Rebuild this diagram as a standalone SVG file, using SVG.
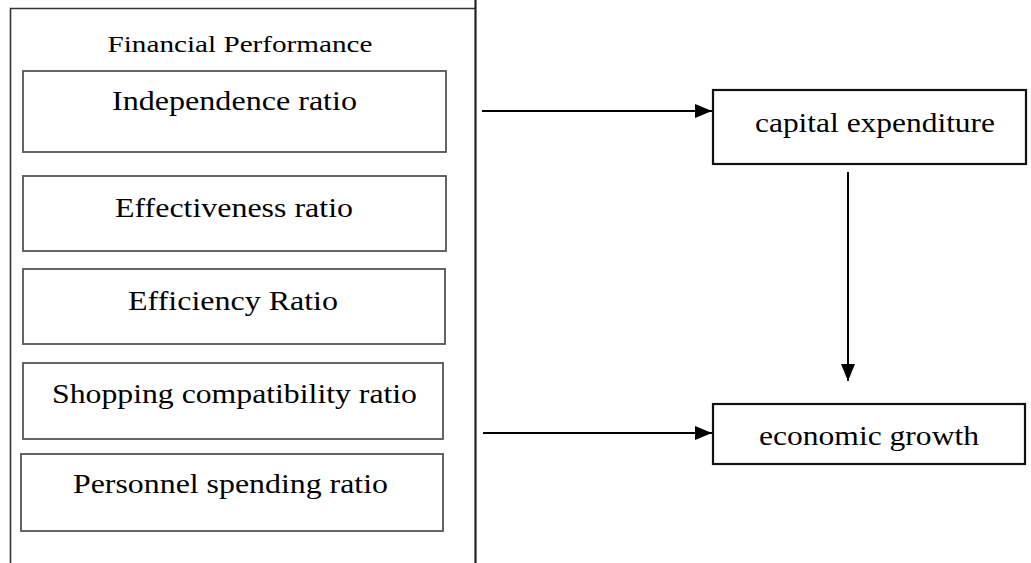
<svg xmlns="http://www.w3.org/2000/svg" width="1031" height="563" viewBox="0 0 1031 563">
<style>
text{font-family:"Liberation Serif","Times New Roman",serif;fill:#000;text-anchor:middle}
.t{font-size:27px}
.h{font-size:24px}
.inner{fill:#fff;stroke:#555;stroke-width:1.8}
.rb{fill:#fff;stroke:#111;stroke-width:2.2}
.ln{stroke:#000;stroke-width:2;fill:none}
</style>
<defs>
<marker id="ah" markerWidth="17" markerHeight="14" refX="17" refY="7" orient="auto" markerUnits="userSpaceOnUse">
<path d="M0,0 L17,7 L0,14 Z" fill="#000"/>
</marker>
</defs>
<rect width="1031" height="563" fill="#fff"/>
<g id="financial-performance">
<path d="M10.5,563 V8.5 H475" fill="none" stroke="#333" stroke-width="1.6"/>
<line x1="475.5" y1="0" x2="475.5" y2="563" stroke="#222" stroke-width="2.2"/>
<text class="h" x="240" y="52" textLength="265" lengthAdjust="spacingAndGlyphs">Financial Performance</text>
</g>
<g id="independence-ratio">
<rect class="inner" x="23" y="71" width="423" height="81"/>
<text class="t" x="234.5" y="110" textLength="245" lengthAdjust="spacingAndGlyphs">Independence ratio</text>
</g>
<g id="effectiveness-ratio">
<rect class="inner" x="23" y="176" width="423" height="75"/>
<text class="t" x="234" y="217" textLength="238" lengthAdjust="spacingAndGlyphs">Effectiveness ratio</text>
</g>
<g id="efficiency-ratio">
<rect class="inner" x="23" y="269" width="422" height="75"/>
<text class="t" x="233" y="310" textLength="210" lengthAdjust="spacingAndGlyphs">Efficiency Ratio</text>
</g>
<g id="shopping-compatibility-ratio">
<rect class="inner" x="23" y="363" width="420" height="76"/>
<text class="t" x="234.5" y="403" textLength="365" lengthAdjust="spacingAndGlyphs">Shopping compatibility ratio</text>
</g>
<g id="personnel-spending-ratio">
<rect class="inner" x="21" y="454" width="422" height="77"/>
<text class="t" x="230.5" y="493" textLength="315" lengthAdjust="spacingAndGlyphs">Personnel spending ratio</text>
</g>
<g id="capital-expenditure">
<rect class="rb" x="713" y="90" width="313" height="74"/>
<text class="t" x="875" y="132" textLength="240" lengthAdjust="spacingAndGlyphs">capital expenditure</text>
</g>
<g id="economic-growth">
<rect class="rb" x="713" y="404" width="312" height="60"/>
<text class="t" x="869" y="445" textLength="220" lengthAdjust="spacingAndGlyphs">economic growth</text>
</g>
<g id="connectors">
<line class="ln" x1="482" y1="111" x2="712" y2="111" marker-end="url(#ah)"/>
<line class="ln" x1="483" y1="433" x2="712" y2="433" marker-end="url(#ah)"/>
<line class="ln" x1="848" y1="172" x2="848" y2="381" marker-end="url(#ah)"/>
</g>
</svg>
